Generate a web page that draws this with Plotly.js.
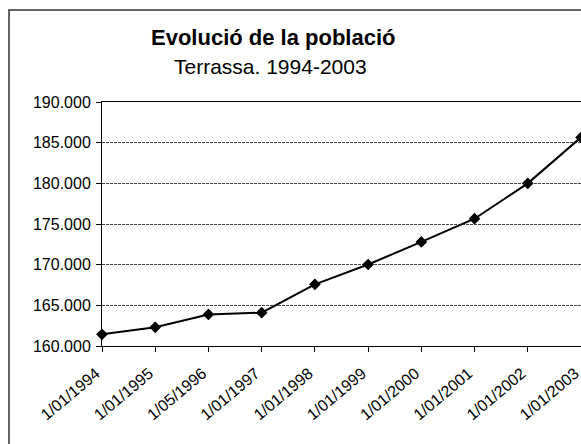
<!DOCTYPE html>
<html>
<head>
<meta charset="utf-8">
<script src="https://cdn.plot.ly/plotly-3.0.1.min.js"></script>
<style>html,body{margin:0;padding:0;background:#fff;}#chart{width:581px;height:444px;}</style>
</head>
<body>
<div id="chart"></div>
<script>
var dates = ["1/01/1994","1/01/1995","1/05/1996","1/01/1997","1/01/1998","1/01/1999","1/01/2000","1/01/2001","1/01/2002","1/01/2003"];
var population = [161440, 162300, 163880, 164100, 167580, 170020, 172800, 175650, 180000, 185650];
var titleText = "Evolució de la població";
var subtitleText = "Terrassa. 1994-2003";

var L = 102, T = 102, B = 98, R = 0;
var W = 581, H = 444;
var pw = W - L - R, ph = H - T - B;
function px2x(p){ return (p - L) / pw; }
function py2y(p){ return (H - B - p) / ph; }

var font = "Liberation Sans, Arial, sans-serif";

var trace = {
  x: dates,
  y: population,
  type: "scatter",
  mode: "lines+markers",
  line: {color: "#000", width: 2},
  marker: {symbol: "diamond", size: 9, color: "#000"},
  cliponaxis: false,
  hoverinfo: "x+y"
};

var layout = {
  width: W, height: H,
  margin: {l: L, r: R, t: T, b: B, pad: 0},
  paper_bgcolor: "#fff",
  plot_bgcolor: "#fff",
  showlegend: false,
  separators: ",.",
  font: {family: font, color: "#000", size: 16},
  xaxis: {
    type: "category",
    range: [0, 9],
    showgrid: false,
    showline: true, linecolor: "#000", linewidth: 1,
    mirror: true,
    ticks: "outside", ticklen: 5, tickcolor: "#000", tickwidth: 1,
    tickangle: -40,
    ticklabelshift: -6,
    ticklabelstandoff: 6,
    tickfont: {family: font, size: 16, color: "#000"},
    zeroline: false
  },
  yaxis: {
    range: [160000, 190000],
    dtick: 5000,
    tickformat: ",d",
    showgrid: true, gridcolor: "#444", gridwidth: 1, griddash: "3px,1px",
    showline: true, linecolor: "#000", linewidth: 1,
    ticks: "outside", ticklen: 5, tickcolor: "#000", tickwidth: 1,
    ticklabelstandoff: 2,
    tickfont: {family: font, size: 16, color: "#000"},
    zeroline: false
  },
  shapes: [{
    type: "rect", xref: "paper", yref: "paper",
    x0: px2x(9), x1: px2x(700), y0: py2y(10), y1: py2y(600),
    line: {color: "#333", width: 1.5}, fillcolor: "rgba(0,0,0,0)", layer: "below"
  }],
  annotations: [
    {text: "<b>" + titleText + "</b>", xref: "paper", yref: "paper",
     x: px2x(273), y: py2y(37), xanchor: "center", yanchor: "middle",
     showarrow: false, font: {family: font, size: 22, color: "#000"}},
    {text: subtitleText, xref: "paper", yref: "paper",
     x: px2x(270), y: py2y(66), xanchor: "center", yanchor: "middle",
     showarrow: false, font: {family: font, size: 21, color: "#000"}}
  ]
};

Plotly.newPlot("chart", [trace], layout, {displayModeBar: false, staticPlot: true});
</script>
</body>
</html>
